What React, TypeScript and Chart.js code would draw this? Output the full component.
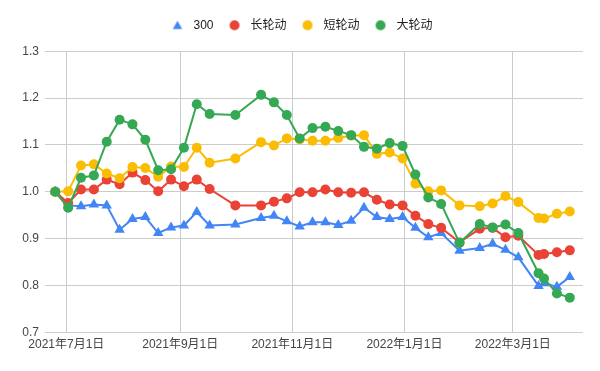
import { useEffect, useRef } from 'react';
import { Chart, registerables } from 'chart.js';

Chart.register(...registerables);

// ---- data ----
const DATES = [
  '2021-06-25', '2021-07-02', '2021-07-09', '2021-07-16', '2021-07-23', '2021-07-30',
  '2021-08-06', '2021-08-13', '2021-08-20', '2021-08-27', '2021-09-03', '2021-09-10',
  '2021-09-17', '2021-10-01', '2021-10-15', '2021-10-22', '2021-10-29', '2021-11-05',
  '2021-11-12', '2021-11-19', '2021-11-26', '2021-12-03', '2021-12-10', '2021-12-17',
  '2021-12-24', '2021-12-31', '2022-01-07', '2022-01-14', '2022-01-21', '2022-01-31',
  '2022-02-11', '2022-02-18', '2022-02-25', '2022-03-04', '2022-03-15', '2022-03-18',
  '2022-03-25', '2022-04-01',
];

const HS300 = [
  1.0, 0.971, 0.969, 0.973, 0.971, 0.919, 0.942, 0.946, 0.912, 0.924, 0.928, 0.957,
  0.928, 0.93, 0.944, 0.949, 0.937, 0.926, 0.935, 0.935, 0.929, 0.938, 0.966, 0.946,
  0.942, 0.946, 0.923, 0.903, 0.912, 0.874, 0.88, 0.889, 0.876, 0.86, 0.799, 0.805,
  0.797, 0.818,
];

const LONG_ROT = [
  1.0, 0.976, 1.005, 1.005, 1.026, 1.016, 1.041, 1.025, 1.001, 1.026, 1.012, 1.026,
  1.006, 0.971, 0.971, 0.979, 0.986, 0.999, 0.999, 1.005, 0.999, 0.998, 0.999, 0.983,
  0.973, 0.971, 0.949, 0.931, 0.923, 0.892, 0.921, 0.923, 0.903, 0.906, 0.865, 0.867,
  0.871, 0.875,
];

const SHORT_ROT = [
  1.0, 1.001, 1.056, 1.059, 1.039, 1.029, 1.053, 1.051, 1.032, 1.054, 1.053, 1.094,
  1.062, 1.071, 1.106, 1.099, 1.114, 1.112, 1.109, 1.109, 1.115, 1.12, 1.121, 1.081,
  1.084, 1.071, 1.017, 1.001, 1.003, 0.971, 0.969, 0.975, 0.991, 0.978, 0.944, 0.943,
  0.953, 0.958,
];

const BIG_ROT = [
  1.0, 0.966, 1.03, 1.035, 1.107, 1.154, 1.144, 1.111, 1.046, 1.048, 1.094, 1.187,
  1.166, 1.164, 1.207, 1.191, 1.164, 1.114, 1.136, 1.139, 1.13, 1.121, 1.096, 1.092,
  1.104, 1.098, 1.037, 0.988, 0.974, 0.891, 0.931, 0.924, 0.93, 0.912, 0.826, 0.815,
  0.783, 0.774,
];

const SERIES_NAMES = ['300', '长轮动', '短轮动', '大轮动'];
const SERIES_VALUES = [HS300, LONG_ROT, SHORT_ROT, BIG_ROT];
const COLORS = ['#4285f4', '#ea4335', '#fbbc04', '#34a853'];
const POINT_STYLES = ['triangle', 'circle', 'circle', 'circle'];

const X_TICK_DATES = ['2021-07-01', '2021-09-01', '2021-11-01', '2022-01-01', '2022-03-01'];
const Y_MIN = 0.7;
const Y_MAX = 1.3;
const Y_STEP = 0.1;

const DAY = 86400000;
const toMs = (s: string) => {
  const [y, m, d] = s.split('-').map(Number);
  return Date.UTC(y, m - 1, d);
};
const fmtDate = (ms: number) => {
  const d = new Date(ms);
  return `${d.getUTCFullYear()}年${d.getUTCMonth() + 1}月${d.getUTCDate()}日`;
};

const X_MIN = toMs('2021-07-01') - 11.6 * DAY;
const X_MAX = toMs('2021-07-01') + 281.2 * DAY;

const FONT = "Arial, 'Liberation Sans', 'Noto Sans CJK SC', sans-serif";

function makeIcon(style: string, color: string) {
  const c = document.createElement('canvas');
  c.width = 12;
  c.height = 12;
  const ctx = c.getContext('2d')!;
  ctx.fillStyle = color;
  ctx.beginPath();
  if (style === 'triangle') {
    const r = 5.4;
    for (let i = 0; i < 3; i++) {
      const a = (i * 2 * Math.PI) / 3;
      const px = 6 + Math.sin(a) * r;
      const py = 7 - Math.cos(a) * r;
      if (i === 0) ctx.moveTo(px, py);
      else ctx.lineTo(px, py);
    }
    ctx.closePath();
  } else {
    ctx.arc(6, 6, 5, 0, Math.PI * 2);
  }
  ctx.fill();
  return c;
}

export default function App() {
  const ref = useRef<HTMLCanvasElement>(null);

  useEffect(() => {
    const canvas = ref.current;
    if (!canvas) return;
    const icons = SERIES_NAMES.map((_, i) => makeIcon(POINT_STYLES[i], COLORS[i]));

    const datasets = SERIES_NAMES.map((name, i) => ({
      label: name,
      data: DATES.map((d, j) => ({ x: toMs(d), y: SERIES_VALUES[i][j] })),
      borderColor: COLORS[i],
      backgroundColor: COLORS[i],
      borderWidth: 2,
      pointStyle: POINT_STYLES[i],
      pointRadius: POINT_STYLES[i] === 'triangle' ? 6 : 5,
      pointBorderWidth: 0,
      pointBackgroundColor: COLORS[i],
      tension: 0,
      order: SERIES_NAMES.length - i,
    }));

    const chart = new Chart(canvas, {
      type: 'line',
      data: { datasets },
      options: {
        responsive: false,
        animation: false,
        events: [],
        layout: { padding: { top: 8.3, left: 0, right: 0, bottom: 0 } },
        plugins: {
          tooltip: { enabled: false },
          legend: {
            position: 'top',
            labels: {
              usePointStyle: true,
              pointStyleWidth: 20,
              boxHeight: 12,
              padding: 11,
              color: '#222',
              font: { size: 12, family: FONT },
              generateLabels: (ch: any) => {
                const items = (Chart.defaults.plugins.legend.labels as any).generateLabels(ch);
                return items
                  .sort((a: any, b: any) => a.datasetIndex - b.datasetIndex)
                  .map((it: any) => ({ ...it, pointStyle: icons[it.datasetIndex] }));
              },
            },
          },
        },
        scales: {
          x: {
            type: 'linear',
            min: X_MIN,
            max: X_MAX,
            grid: { color: '#cccccc', drawTicks: false, lineWidth: 1 },
            border: { display: false },
            afterBuildTicks: (axis: any) => {
              axis.ticks = X_TICK_DATES.map((s) => ({ value: toMs(s) }));
            },
            afterFit: (axis: any) => {
              axis.height = 38.7;
            },
            ticks: {
              autoSkip: false,
              maxRotation: 0,
              padding: 5,
              color: '#444',
              font: { size: 12, family: FONT },
              callback: (v: any) => fmtDate(Number(v)),
            },
          },
          xTop: {
            type: 'linear',
            axis: 'x',
            position: 'top',
            display: true,
            grid: { display: false },
            border: { display: false },
            ticks: { display: false },
            afterFit: (axis: any) => {
              axis.height = 10;
            },
          },
          y: {
            type: 'linear',
            position: 'left',
            min: Y_MIN,
            max: Y_MAX,
            grid: { color: '#cccccc', drawTicks: false, lineWidth: 1 },
            border: { display: false },
            afterFit: (axis: any) => {
              axis.width = 45;
            },
            ticks: {
              stepSize: Y_STEP,
              padding: 6,
              color: '#444',
              font: { size: 12, family: FONT },
              callback: (v: any) => Number(v).toFixed(1),
            },
          },
          yRight: {
            type: 'linear',
            axis: 'y',
            position: 'right',
            display: true,
            grid: { display: false },
            border: { display: false },
            ticks: { display: false },
            afterFit: (axis: any) => {
              axis.width = 17;
            },
          },
        },
      } as any,
    });

    return () => chart.destroy();
  }, []);

  return (
    <div style={{ position: 'fixed', left: 0, top: 0, width: 600, height: 371, background: '#fff' }}>
      <canvas ref={ref} width={600} height={371} style={{ display: 'block' }} />
    </div>
  );
}
